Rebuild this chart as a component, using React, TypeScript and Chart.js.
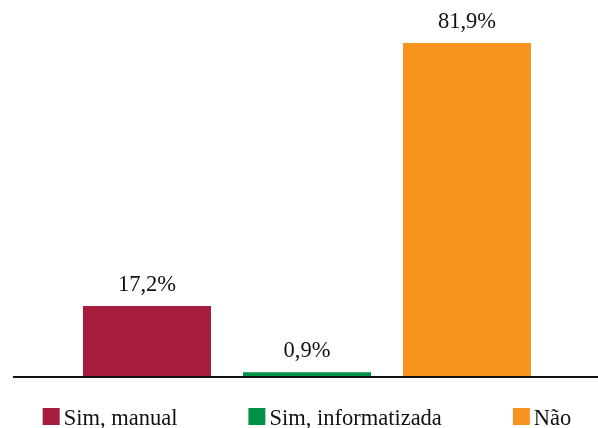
import React, { useEffect, useRef } from "react";
import { Chart, registerables } from "chart.js";

Chart.register(...registerables);

const categories = ["Sim, manual", "Sim, informatizada", "Não"];
const values = [17.2, 0.9, 81.9];
const colors = ["#A51C3C", "#009245", "#F7931E"];

const FONT = "'Liberation Serif', 'Times New Roman', serif";
const FONT_SIZE = 22.5;
const TEXT_COLOR = "#111";

const formatPct = (v: number) => v.toFixed(1).replace(".", ",") + "%";

// Value labels above each bar
const valueLabelPlugin = {
  id: "valueLabels",
  afterDatasetsDraw(chart: any) {
    const ctx = chart.ctx;
    const meta = chart.getDatasetMeta(0);
    ctx.save();
    ctx.font = `${FONT_SIZE}px ${FONT}`;
    ctx.fillStyle = TEXT_COLOR;
    ctx.textAlign = "center";
    ctx.textBaseline = "alphabetic";
    meta.data.forEach((bar: any, i: number) => {
      ctx.fillText(formatPct(values[i]), bar.x, bar.y - 15);
    });
    ctx.restore();
  },
};

// Baseline across the full width at value 0
const baselinePlugin = {
  id: "baseline",
  afterDatasetsDraw(chart: any) {
    const ctx = chart.ctx;
    const y = chart.scales.y.getPixelForValue(0);
    ctx.save();
    ctx.strokeStyle = TEXT_COLOR;
    ctx.lineWidth = 2;
    ctx.beginPath();
    ctx.moveTo(13, y + 1);
    ctx.lineTo(chart.width, y + 1);
    ctx.stroke();
    ctx.restore();
  },
};

// Legend row along the bottom: square swatch, tight gap, label
const legendPlugin = {
  id: "bottomLegend",
  afterDraw(chart: any) {
    const ctx = chart.ctx;
    const box = 17;
    const gap = 4;
    const spacing = 71;
    ctx.save();
    ctx.font = `${FONT_SIZE}px ${FONT}`;
    const widths = categories.map((c) => ctx.measureText(c).width);
    const total =
      widths.reduce((s, w) => s + box + gap + w, 0) + spacing * (categories.length - 1);
    const area = chart.chartArea;
    let x = (area.left + area.right) / 2 - total / 2;
    const baseY = 425;
    ctx.textBaseline = "alphabetic";
    ctx.textAlign = "left";
    categories.forEach((c, i) => {
      ctx.fillStyle = colors[i];
      ctx.fillRect(x, baseY - box, box, box);
      ctx.fillStyle = TEXT_COLOR;
      ctx.fillText(c, x + box + gap, baseY);
      x += box + gap + widths[i] + spacing;
    });
    ctx.restore();
  },
};

export default function App() {
  const canvasRef = useRef<HTMLCanvasElement | null>(null);

  useEffect(() => {
    if (!canvasRef.current) return;
    const chart = new Chart(canvasRef.current, {
      type: "bar",
      data: {
        labels: categories,
        datasets: [
          {
            data: values,
            backgroundColor: colors,
            borderWidth: 0,
            barPercentage: 1,
            categoryPercentage: 0.8,
          },
        ],
      },
      options: {
        responsive: false,
        animation: false,
        layout: { padding: { left: 67, right: 51, top: 0, bottom: 52 } },
        plugins: {
          legend: { display: false },
          tooltip: { enabled: false },
        },
        scales: {
          x: { display: false },
          y: { display: false, min: 0, max: 92.5 },
        },
      },
      plugins: [baselinePlugin, valueLabelPlugin, legendPlugin],
    });
    return () => chart.destroy();
  }, []);

  return (
    <div style={{ position: "absolute", left: 0, top: 0, width: 598, height: 428, background: "#fff" }}>
      <canvas ref={canvasRef} width={598} height={428} />
    </div>
  );
}
